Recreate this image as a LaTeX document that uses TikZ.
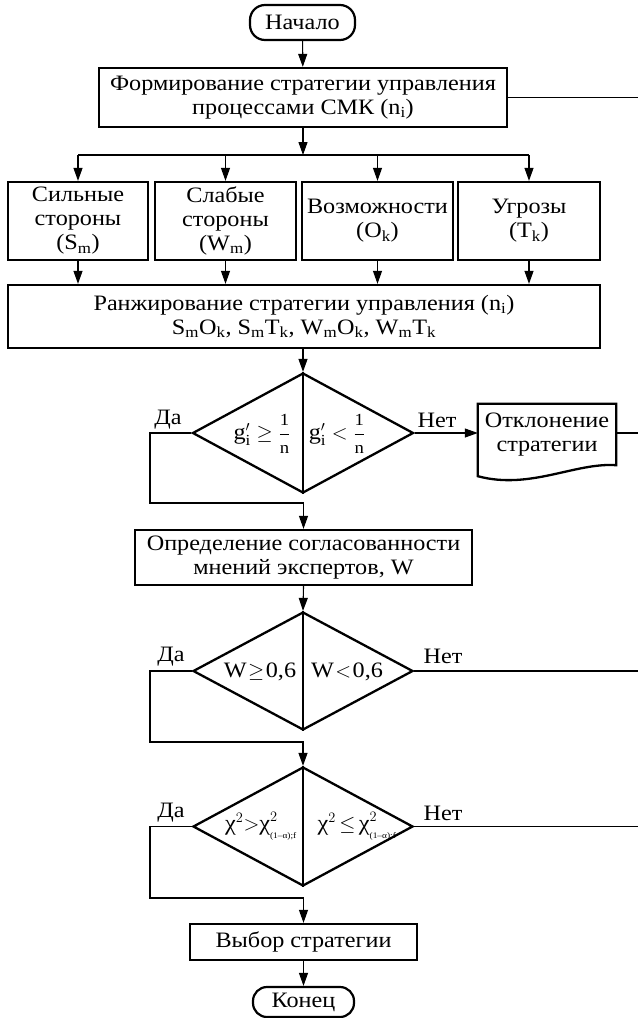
\documentclass[tikz,border=0pt]{standalone}
\usepackage{amsmath}
\usepackage{fontspec}
\setmainfont{Liberation Serif}[FakeStretch=1.1]
\usetikzlibrary{arrows.meta,shapes.geometric,calc}
\newcommand{\lblfont}{\fontsize{22}{24}\selectfont}
\newcommand{\subfs}{\fontsize{8.5}{9}\selectfont}
\newcommand{\fracfs}{\fontsize{17}{17}\selectfont}
\newcommand{\onen}{\dfrac{\text{\fracfs 1}}{\text{\fracfs n}}}
\newcommand{\chicrit}{\text{χ}^{\raisebox{1.5pt}{$\scriptstyle 2$}}_{\raisebox{-2.5pt}{\subfs(1–α);f}}}
\begin{document}
\begin{tikzpicture}[x=1pt,y=-1pt,
  every node/.style={font=\lblfont, inner sep=0pt},
  frame/.style={draw, line width=2.3pt, align=center},
  term/.style={draw, line width=2.2pt, rounded corners=15pt},
  cond/.style={diamond, draw, line width=2.3pt, inner sep=0pt},
  conn/.style={line width=1.1pt},
  arr/.style={conn, -{Triangle[length=13pt,width=9pt]}},
]
\useasboundingbox (0,0) rectangle (638,1018);

% blocks
\node[term, minimum width=105pt, minimum height=35pt] (start) at (302.5,22.5) {Начало};
\node[frame, minimum width=408pt, minimum height=59pt] (form) at (303,97.5)
  {Формирование стратегии управления\\процессами СМК (n\textsubscript{i})};
\coordinate (split) at (303,155);
\node[frame, minimum width=140pt, minimum height=78pt] (sw) at (78,221) {Сильные\\стороны\\(S\textsubscript{m})};
\node[frame, minimum width=141pt, minimum height=78pt] (ww) at (225.5,221) {Слабые\\стороны\\(W\textsubscript{m})};
\node[frame, minimum width=151pt, minimum height=78pt] (op) at (377.5,221) {Возможности\\(O\textsubscript{k})};
\node[frame, minimum width=142pt, minimum height=78pt] (th) at (529,221) {Угрозы\\(T\textsubscript{k})};
\node[frame, minimum width=592pt, minimum height=63pt] (rank) at (304,316.5)
  {Ранжирование стратегии управления (n\textsubscript{i})\\
   S\textsubscript{m}O\textsubscript{k}, S\textsubscript{m}T\textsubscript{k}, W\textsubscript{m}O\textsubscript{k}, W\textsubscript{m}T\textsubscript{k}};

\node[cond, minimum width=221pt, minimum height=120pt] (d1) at (303,433) {};
\node (d1l) at (262,434) {$\text{g}'_{\text{i}}\geq\onen$};
\node (d1r) at (337,434) {$\text{g}'_{\text{i}}<\onen$};
\node[minimum width=138pt, minimum height=61pt, align=center] (otk) at (547,434.5) {Отклонение\\стратегии};
\draw[line width=2.3pt] (otk.south east) -- (otk.north east) -- (otk.north west)
  -- ($(otk.south west)+(0,11)$)
  .. controls ($(otk.south)+(-17,25)$) and ($(otk.south east)+(-41,-3)$) .. (otk.south east) -- cycle;

\node[frame, minimum width=337pt, minimum height=55pt] (agr) at (303.5,557.5)
  {Определение согласованности\\мнений экспертов, W};

\node[cond, minimum width=220pt, minimum height=118pt] (d2) at (303,671) {};
\node (d2l) at (260,672) {W\kern1.5pt$\geq$\kern1.5pt0,6};
\node (d2r) at (347,672) {W\kern1.5pt$<$\kern1.5pt0,6};

\node[cond, minimum width=220pt, minimum height=119pt] (d3) at (303,826.5) {};
\node (d3l) at (261,826) {$\text{χ}^{2}{>}\chicrit$};
\node (d3r) at (357,826) {$\text{χ}^{2}{\,\leq\,}\chicrit$};

\node[frame, minimum width=227pt, minimum height=36pt] (pick) at (303.5,942) {Выбор стратегии};
\node[term, minimum width=101pt, minimum height=30pt, rounded corners=14pt] (stop) at (303.5,1002) {Конец};

% branch labels
\node (y1) at (168,420) {Да};
\node (n1) at (437,420) {Нет};
\node (y2) at (171,657) {Да};
\node (n2) at (443,656) {Нет};
\node (y3) at (171,813) {Да};
\node (n3) at (443,813) {Нет};

% connectors
\coordinate (r0) at (638,97.5);
\coordinate (k1) at (150,503);
\coordinate (k2) at (150,742);
\coordinate (k3) at (150,898);

\draw[arr] (start) -- (form);
\draw[conn] (form.east) -- (r0);
\draw[arr] (form.south) -- (split);
\draw[conn] (sw.north |- split) -- (th.north |- split);
\foreach \b in {sw,ww,op,th} {
  \draw[arr] (\b.north |- split) -- (\b.north);
  \draw[arr] (\b.south) -- (\b.south |- rank.north);
}
\draw[arr] (d1.north |- rank.south) -- (d1.north);
\draw[conn] (d1.north) -- (d1.south);
\draw[arr] (d1.east) -- (d1.east -| otk.west);
\draw[conn] (d1.east -| otk.east) -- (d1.east -| r0);
\draw[arr] (d1.west) -| (k1) -- (k1 -| agr.north) -- (agr.north);

\draw[arr] (agr.south) -- (d2.north);
\draw[conn] (d2.north) -- (d2.south);
\draw[conn] (d2.east) -- (d2.east -| r0);
\draw[arr] (d2.west) -| (k2) -- (k2 -| d3.north) -- (d3.north);

\draw[conn] (d3.north) -- (d3.south);
\draw[conn] (d3.east) -- (d3.east -| r0);
\draw[arr] (d3.west) -| (k3) -- (k3 -| pick.north) -- (pick.north);
\draw[arr] (pick) -- (stop);
\end{tikzpicture}
\end{document}
